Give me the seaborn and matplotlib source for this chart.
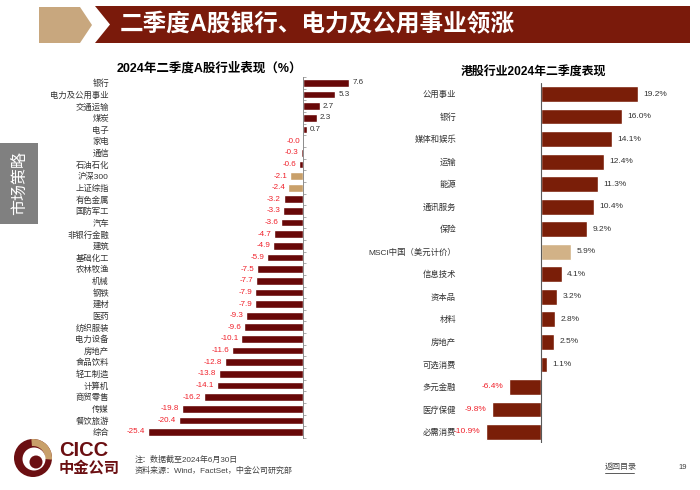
import numpy as np
import pandas as pd
import matplotlib
matplotlib.use('Agg')
import matplotlib.pyplot as plt
from matplotlib.patches import Polygon, Rectangle, Circle, Wedge
import seaborn as sns

# A-share sectors, Q2 2024 (%)
a_cats = ['银行', '电力及公用事业', '交通运输', '煤炭', '电子', '家电', '通信', '石油石化',
          '沪深300', '上证综指', '有色金属', '国防军工', '汽车', '非银行金融', '建筑', '基础化工',
          '农林牧渔', '机械', '钢铁', '建材', '医药', '纺织服装', '电力设备', '房地产',
          '食品饮料', '轻工制造', '计算机', '商贸零售', '传媒', '餐饮旅游', '综合']
a_vals = [7.6, 5.3, 2.7, 2.3, 0.7, -0.04, -0.3, -0.6,
          -2.1, -2.4, -3.2, -3.3, -3.6, -4.7, -4.9, -5.9,
          -7.5, -7.7, -7.9, -7.9, -9.3, -9.6, -10.1, -11.6,
          -12.8, -13.8, -14.1, -16.2, -19.8, -20.4, -25.4]
a_index = ['沪深300', '上证综指']

# HK sectors, Q2 2024 (%)
h_cats = ['公用事业', '银行', '媒体和娱乐', '运输', '能源', '通讯服务', '保险', 'MSCI中国（美元计价）',
          '信息技术', '资本品', '材料', '房地产', '可选消费', '多元金融', '医疗保健', '必需消费']
h_vals = [19.2, 16.0, 14.1, 12.4, 11.3, 10.4, 9.2, 5.9,
          4.1, 3.2, 2.8, 2.5, 1.1, -6.4, -9.8, -10.9]
h_index = ['MSCI中国（美元计价）']

sns.set_style('white')
plt.rcParams['font.family'] = ['Liberation Sans', 'Noto Sans CJK SC', 'DejaVu Sans']

dark_red = '#680808'
brick = '#7A1E08'
tan_a = '#C9A06A'
tan_h = '#D2B287'
neg_red = '#F0202A'
txt = '#333333'

df_a = pd.DataFrame({'cat': a_cats, 'val': a_vals})
df_a['grp'] = np.where(df_a['cat'].isin(a_index), 'idx', 'sec')
df_h = pd.DataFrame({'cat': h_cats, 'val': h_vals})
df_h['grp'] = np.where(df_h['cat'].isin(h_index), 'idx', 'sec')

fig = plt.figure(figsize=(7, 4.9), dpi=100)

# background layer in pixel coords for header/footer decoration
bg = fig.add_axes([0, 0, 1, 1])
bg.set_xlim(0, 700)
bg.set_ylim(490, 0)
bg.axis('off')

bg.add_patch(Polygon([(39, 7), (80, 7), (92, 25), (80, 43), (39, 43)], closed=True,
                     color='#C8A77E', lw=0))
bg.add_patch(Polygon([(95, 6), (690, 6), (690, 43), (95, 43), (110, 24.5)], closed=True,
                     color='#7A1A0B', lw=0))
bg.text(120, 25, '二季度A股银行、电力及公用事业领涨', color='white', fontsize=17,
        fontweight='bold', va='center', ha='left')

bg.add_patch(Rectangle((0, 143), 38, 81, color='#808080', lw=0))
bg.text(19, 183, '市场策略', color='white', fontsize=11.5, rotation=90,
        ha='center', va='center')

# logo
bg.add_patch(Circle((33, 458), 19, color='#6B0F12', lw=0))
bg.add_patch(Wedge((33, 458), 19, -95, 5, width=7, color='#C8A06A', lw=0))
bg.add_patch(Circle((34, 459), 11.5, color='white', lw=0))
bg.add_patch(Circle((36, 462), 6.5, color='#6B0F12', lw=0))
bg.text(59, 459.5, 'CICC', color='#6B0F12', fontsize=14.5, fontweight='bold', va='bottom')
bg.text(59, 460.5, '中金公司', color='#6B0F12', fontsize=11, fontweight='bold', va='top')

bg.text(135, 460, '注：数据截至2024年6月30日', color='#404040', fontsize=5.8, va='center')
bg.text(135, 471, '资料来源：Wind，FactSet，中金公司研究部', color='#404040', fontsize=5.8, va='center')
bg.text(605, 467, '返回目录', color='#404040', fontsize=5.8, va='center')
bg.plot([605, 634], [472.5, 472.5], color='#404040', lw=0.6)
bg.text(678, 467, '19', color='#404040', fontsize=5.5, va='center')

bg.text(209, 69, '2024年二季度A股行业表现（%）', fontsize=9, fontweight='bold',
        ha='center', va='center', color='black')
bg.text(533, 72, '港股行业2024年二季度表现', fontsize=8.6, fontweight='bold',
        ha='center', va='center', color='black')

# left chart: A shares
ax1 = fig.add_axes([0.2063, 0.1065, 0.3094, 0.736])
sns.barplot(data=df_a, x='val', y='cat', hue='grp', palette={'sec': dark_red, 'idx': tan_a},
            dodge=False, width=0.66, legend=False, orient='h', saturation=1, ax=ax1)
ax1.set_xlim(-26, 9.5)
ax1.set_ylim(len(a_cats) - 0.5, -0.5)
ax1.set_xlabel('')
ax1.set_ylabel('')
ax1.set_xticks([])
ax1.set_yticks(range(len(a_cats)))
ax1.set_yticklabels(a_cats)
ax1.set_yticks(np.arange(-0.5, len(a_cats)), minor=True)
ax1.tick_params(axis='y', which='major', left=False, right=False, labelsize=6,
                pad=22, labelcolor=txt)
ax1.tick_params(axis='y', which='minor', left=False, right=True, length=2.5,
                width=0.5, color='#8C8C8C', direction='out')
for s in ['top', 'bottom', 'left']:
    ax1.spines[s].set_visible(False)
ax1.spines['right'].set_position(('data', 0))
ax1.spines['right'].set_color('#8C8C8C')
ax1.spines['right'].set_linewidth(0.7)
ax1.patch.set_alpha(0)
for c in ax1.containers:
    labels = ax1.bar_label(c, fmt='%.1f', padding=2, fontsize=5.8)
    for t, b in zip(labels, c):
        w = b.get_width()
        t.set_color(neg_red if w < 0 else txt)

# right chart: HK
ax2 = fig.add_axes([0.6863, 0.0954, 0.2453, 0.7357])
sns.barplot(data=df_h, x='val', y='cat', hue='grp', palette={'sec': brick, 'idx': tan_h},
            dodge=False, width=0.7, legend=False, orient='h', saturation=1, ax=ax2)
ax2.set_xlim(-12, 22)
ax2.set_ylim(len(h_cats) - 0.5, -0.5)
ax2.set_xlabel('')
ax2.set_ylabel('')
ax2.set_xticks([])
ax2.tick_params(axis='y', left=False, labelsize=6, pad=14, labelcolor=txt)
for s in ['top', 'bottom', 'left', 'right']:
    ax2.spines[s].set_visible(False)
ax2.axvline(0, color='#595959', lw=0.8)
ax2.patch.set_alpha(0)
for c in ax2.containers:
    labels = ax2.bar_label(c, fmt='%.1f%%', padding=4, fontsize=6)
    for t, b in zip(labels, c):
        w = b.get_width()
        t.set_color(neg_red if w < 0 else txt)

fig.savefig('out.png', dpi=100)
